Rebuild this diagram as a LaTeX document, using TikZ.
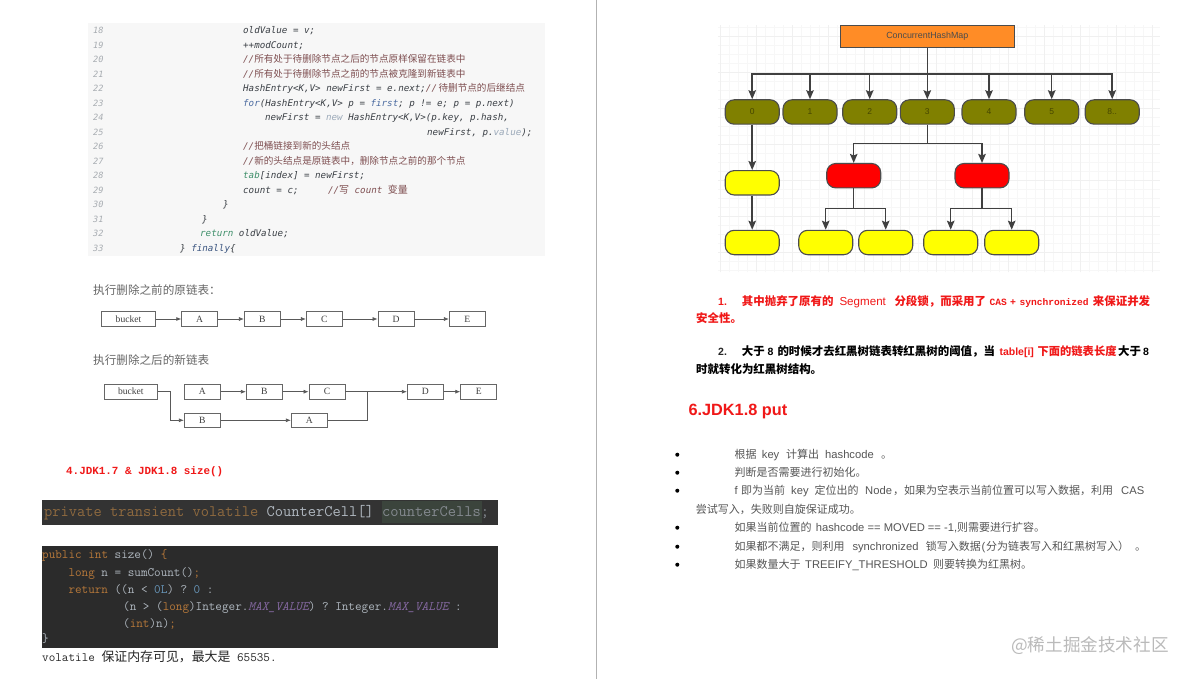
\documentclass[tikz,border=0pt]{standalone}
\usepackage{fontspec}
\setmainfont{Liberation Sans}
\newfontfamily\cjk{Noto Sans CJK SC}
\newfontfamily\codefont{DejaVu Sans Mono}
\newfontfamily\monob{Liberation Mono}
\newfontfamily\serifbox{Liberation Serif}
\usetikzlibrary{arrows.meta}
\newcommand{\zh}[1]{{\cjk #1}}
\newcommand{\fs}[1]{\fontsize{#1}{#1}\selectfont}
\definecolor{codegray}{HTML}{3A3F45}
\definecolor{numgray}{HTML}{A8ADB2}
\definecolor{cmt}{HTML}{7E4E50}
\definecolor{kwgreen}{HTML}{3E8F6A}
\definecolor{kwblue}{HTML}{4A6AA0}
\definecolor{kwpale}{HTML}{9AA8B8}
\definecolor{darkbg}{HTML}{2B2B2B}
\definecolor{barbg}{HTML}{333333}
\definecolor{markbg}{HTML}{3B443C}
\definecolor{kworange}{HTML}{B8793A}
\definecolor{kwdim}{HTML}{8F6A3F}
\definecolor{idegray}{HTML}{B0B8C0}
\definecolor{idenum}{HTML}{6897BB}
\definecolor{idepurple}{HTML}{8468A0}
\definecolor{pagered}{HTML}{F01818}
\definecolor{bodygray}{HTML}{555555}
\definecolor{boxorange}{HTML}{FF8C26}
\definecolor{boxolive}{HTML}{808000}
\definecolor{boxyellow}{HTML}{FFFF00}
\definecolor{boxred}{HTML}{FF0000}
\tikzset{
  codetext/.style={anchor=mid west,yshift=-1.2pt,inner sep=0pt,text=codegray,font=\codefont\itshape\fs{9.2}},
  numtext/.style={anchor=mid west,yshift=-1.2pt,inner sep=0pt,text=numgray,font=\codefont\itshape\fs{8.6}},
  captext/.style={anchor=mid west,yshift=-1.5pt,inner sep=0pt,text=black!60,font=\cjk\fs{11.6}},
  listbox/.style={draw=black!60,line width=0.8pt,fill=white,inner sep=0pt,minimum width=36pt,minimum height=14.7pt,text=black!75,font=\serifbox\fs{9.6}},
  listarrow/.style={draw=black!65,line width=0.7pt,-{Latex[length=5pt,width=4pt]}},
  listline/.style={draw=black!65,line width=0.7pt},
  idetext/.style={anchor=mid west,yshift=-1.2pt,inner sep=0pt,text=idegray,font=\ttfamily\fs{12.8}},
  roundbox/.style={draw=black!70,line width=1.1pt,rounded corners=9pt,inner sep=0pt,minimum width=54pt,minimum height=24.4pt,text=boxolive!55!black,font=\fs{8.5}},
  treearrow/.style={draw=black!75,line width=1.5pt,-{Stealth[length=9pt,width=7.5pt,inset=1.5pt]}},
  treeline/.style={draw=black!75,line width=1.5pt},
  redzh/.style={anchor=mid west,yshift=-1.5pt,inner sep=0pt,text=pagered,font=\cjk\bfseries\fs{11.45}},
  blackzh/.style={anchor=mid west,yshift=-1.5pt,inner sep=0pt,text=black,font=\cjk\bfseries\fs{11.45}},
  redlatin/.style={anchor=mid west,yshift=-1.5pt,inner sep=0pt,text=pagered,font=\fs{11.6}},
  redmono/.style={anchor=mid west,yshift=-1.5pt,inner sep=0pt,text=pagered,font=\monob\bfseries\fs{9.6}},
  bodyzh/.style={anchor=mid west,yshift=-1.2pt,inner sep=0pt,text=bodygray,font=\cjk\fs{11}},
  bodylatin/.style={anchor=mid west,yshift=-1.2pt,inner sep=0pt,text=bodygray,font=\fs{11.2}},
  bulletdot/.style={circle,fill=black,inner sep=0pt,minimum size=4pt}
}
\begin{document}
\begin{tikzpicture}[x=1pt,y=-1pt]
\useasboundingbox (0,0) rectangle (1196,679);
\fill[white] (0,0) rectangle (1196,679);
\draw[black!30,line width=1pt] (596.5,0) -- (596.5,679);
% source listing
\fill[black!3] (88,23) rectangle (545,256);
\node[numtext] (num18) at (93,29.7) {18};
\node[numtext] (num19) at (93,44.2) {19};
\node[numtext] (num20) at (93,58.7) {20};
\node[numtext] (num21) at (93,73.2) {21};
\node[numtext] (num22) at (93,87.7) {22};
\node[numtext] (num23) at (93,102.2) {23};
\node[numtext] (num24) at (93,116.7) {24};
\node[numtext] (num25) at (93,131.2) {25};
\node[numtext] (num26) at (93,145.7) {26};
\node[numtext] (num27) at (93,160.2) {27};
\node[numtext] (num28) at (93,174.7) {28};
\node[numtext] (num29) at (93,189.2) {29};
\node[numtext] (num30) at (93,203.7) {30};
\node[numtext] (num31) at (93,218.2) {31};
\node[numtext] (num32) at (93,232.7) {32};
\node[numtext] (num33) at (93,247.2) {33};
\node[codetext] (line18) at (243,29.7) {oldValue = v;};
\node[codetext] (line19) at (243,44.2) {++modCount;};
\node[codetext,text=cmt] (line20) at (243,58.7) {//\zh{\fs{9.6}所有处于待删除节点之后的节点原样保留在链表中}};
\node[codetext,text=cmt] (line21) at (243,73.2) {//\zh{\fs{9.6}所有处于待删除节点之前的节点被克隆到新链表中}};
\node[codetext] (line22) at (243,87.7) {HashEntry<K,V> newFirst = e.next;\textcolor{cmt}{//\hspace{1.5pt}\zh{\fs{9.6}待删节点的后继结点}}};
\node[codetext] (line23) at (243,102.2) {\textcolor{kwblue}{for}(HashEntry<K,V> p = \textcolor{kwblue}{first}; p != e; p = p.next)};
\node[codetext] (line24) at (265,116.7) {newFirst = \textcolor{kwpale}{new} HashEntry<K,V>(p.key, p.hash,};
\node[codetext] (line25) at (427,131.2) {newFirst, p.\textcolor{kwpale}{value});};
\node[codetext,text=cmt] (line26) at (243,145.7) {//\zh{\fs{9.6}把桶链接到新的头结点}};
\node[codetext,text=cmt] (line27) at (243,160.2) {//\zh{\fs{9.6}新的头结点是原链表中，删除节点之前的那个节点}};
\node[codetext] (line28) at (243,174.7) {\textcolor{kwgreen}{tab}[index] = newFirst;};
\node[codetext] (line29) at (243,189.2) {count = c;\hspace{29.5pt}\textcolor{cmt}{//\zh{\fs{10}写} count \zh{\fs{10}变量}}};
\node[codetext] (line30) at (223,203.7) {\}};
\node[codetext] (line31) at (202,218.2) {\}};
\node[codetext] (line32) at (200,232.7) {\textcolor{kwgreen}{return} oldValue;};
\node[codetext] (line33) at (180,247.2) {\} \textcolor{kwblue!80!black}{finally}\{};
% linked list before
\node[captext] (capbefore) at (93,290) {执行删除之前的原链表：};
\node[listbox,minimum width=54.4pt] (bucketa) at (128.5,319) {bucket};
\node[listbox] (a1) at (199.7,319) {A};
\node[listbox] (b1) at (262.3,319) {B};
\node[listbox] (c1) at (324.3,319) {C};
\node[listbox] (d1) at (396,319) {D};
\node[listbox] (e1) at (467.3,319) {E};
\draw[listarrow] (bucketa) -- (a1);
\draw[listarrow] (a1) -- (b1);
\draw[listarrow] (b1) -- (c1);
\draw[listarrow] (c1) -- (d1);
\draw[listarrow] (d1) -- (e1);
% linked list after
\node[captext] (capafter) at (93,360) {执行删除之后的新链表};
\node[listbox,minimum width=53.7pt] (bucketb) at (130.8,391.7) {bucket};
\node[listbox] (a2) at (202.3,391.7) {A};
\node[listbox] (b2) at (264.3,391.7) {B};
\node[listbox] (c2) at (327,391.7) {C};
\node[listbox] (d2) at (425.3,391.7) {D};
\node[listbox] (e2) at (478.7,391.7) {E};
\node[listbox] (b3) at (202.3,420.3) {B};
\node[listbox] (a3) at (309.3,420.3) {A};
\coordinate (drop) at (170.7,391.7);
\coordinate (merge) at (367.3,391.7);
\draw[listarrow] (a2) -- (b2);
\draw[listarrow] (b2) -- (c2);
\draw[listarrow] (c2) -- (d2);
\draw[listarrow] (d2) -- (e2);
\draw[listarrow] (bucketb) -- (drop) |- (b3);
\draw[listarrow] (b3) -- (a3);
\draw[listline] (a3) -| (merge);
% size section
\node[anchor=mid west,yshift=-1.2pt,inner sep=0pt,text=pagered,font=\monob\bfseries\fs{10.9}] (sizetitle) at (66,471) {4.JDK1.7 \& JDK1.8 size()};
\fill[barbg] (42,500) rectangle (498,525);
\fill[markbg] (382,501) rectangle (482,523);
\node[idetext,font=\ttfamily\fs{16}] (cellfield) at (44,512.5) {\textcolor{kwdim}{private transient volatile} \textcolor{idegray}{CounterCell[]} \textcolor{idegray!65!barbg}{counterCells;}};
\fill[darkbg] (42,546) rectangle (498,648);
\node[idetext] (ide1) at (42,555) {\textcolor{kworange}{public int} size() \textcolor{kworange}{\{}};
\node[idetext] (ide2) at (68.3,572.7) {\textcolor{kworange}{long} n = sumCount()\textcolor{kworange}{;}};
\node[idetext] (ide3) at (68.3,590) {\textcolor{kworange}{return} ((n < \textcolor{idenum}{0L}) ? \textcolor{idenum}{0} :};
\node[idetext] (ide4) at (123,607) {(n > (\textcolor{kworange}{long})Integer.\textcolor{idepurple}{\itshape MAX\_VALUE}) ? Integer.\textcolor{idepurple}{\itshape MAX\_VALUE} :};
\node[idetext] (ide5) at (123,624) {(\textcolor{kworange}{int})n)\textcolor{kworange}{;}};
\node[idetext] (ide6) at (42,639) {\}};
\node[idetext,text=black!85] (sizenote) at (42,657.7) {volatile \zh{\fs{12.9}保证内存可见，最大是} 65535.};
% tree picture
\draw[black!3,line width=0.4pt,step=9pt] (718,25) grid (1160,272);
\draw[black!6,line width=0.6pt,step=36pt] (718,25) grid (1160,272);
\node[draw=black!70,fill=boxorange,line width=0.9pt,inner sep=0pt,minimum width=174.7pt,minimum height=22.7pt,text=black!70,font=\fs{8.9}] (map) at (927.3,36.4) {ConcurrentHashMap};
\node[roundbox,fill=boxolive] (s0) at (752.2,112) {0};
\node[roundbox,fill=boxolive] (s1) at (810,112) {1};
\node[roundbox,fill=boxolive] (s2) at (869.7,112) {2};
\node[roundbox,fill=boxolive] (s3) at (927.3,112) {3};
\node[roundbox,fill=boxolive] (s4) at (989,112) {4};
\node[roundbox,fill=boxolive] (s5) at (1051.7,112) {5};
\node[roundbox,fill=boxolive] (s6) at (1112.2,112) {8..};
\node[roundbox,fill=boxyellow] (y1) at (752.2,182.8) {};
\node[roundbox,fill=boxyellow] (y2) at (752.2,242.5) {};
\node[roundbox,fill=boxred] (r1) at (853.7,175.7) {};
\node[roundbox,fill=boxred] (r2) at (982,175.7) {};
\node[roundbox,fill=boxyellow] (y3) at (825.7,242.5) {};
\node[roundbox,fill=boxyellow] (y4) at (885.7,242.5) {};
\node[roundbox,fill=boxyellow] (y5) at (950.7,242.5) {};
\node[roundbox,fill=boxyellow] (y6) at (1011.7,242.5) {};
\coordinate (hub) at (927.3,74);
\coordinate (hubthree) at (927.3,143.7);
\coordinate (hubred1) at (853.7,208.7);
\coordinate (hubred2) at (982,208.7);
\draw[treeline] (map) -- (hub);
\draw[treearrow] (hub) -| (s0);
\draw[treearrow] (hub) -| (s1);
\draw[treearrow] (hub) -| (s2);
\draw[treearrow] (hub) -- (s3);
\draw[treearrow] (hub) -| (s4);
\draw[treearrow] (hub) -| (s5);
\draw[treearrow] (hub) -| (s6);
\draw[treearrow] (s0) -- (y1);
\draw[treearrow] (y1) -- (y2);
\draw[treeline] (s3) -- (hubthree);
\draw[treearrow] (hubthree) -| (r1);
\draw[treearrow] (hubthree) -| (r2);
\draw[treeline] (r1) -- (hubred1);
\draw[treeline] (r2) -- (hubred2);
\draw[treearrow] (hubred1) -| (y3);
\draw[treearrow] (hubred1) -| (y4);
\draw[treearrow] (hubred2) -| (y5);
\draw[treearrow] (hubred2) -| (y6);
% numbered notes
\node[redlatin,font=\bfseries\fs{10.5}] (note1) at (718,301) {1.};
\node[redzh] (note1a) at (741.7,301) {其中抛弃了原有的};
\node[redlatin] (note1b) at (839.3,301) {Segment};
\node[redzh] (note1c) at (894.3,301) {分段锁，而采用了};
\node[redmono] (note1d) at (989.3,301) {CAS};
\node[redlatin,font=\bfseries\fs{10}] (note1e) at (1010,301) {+};
\node[redmono] (note1f) at (1019.3,301) {synchronized};
\node[redzh] (note1g) at (1092.7,301) {来保证并发};
\node[redzh] (note1h) at (696,318.3) {安全性。};
\node[blackzh,text=black!85,font=\bfseries\fs{10.5}] (note2) at (718,351) {2.};
\node[blackzh] (note2a) at (741.7,351) {大于};
\node[blackzh,font=\bfseries\fs{10.5}] (note2b) at (767.3,351) {8};
\node[blackzh] (note2c) at (777.3,351) {的时候才去红黑树链表转红黑树的阈值，当};
\node[redlatin,font=\bfseries\fs{10.5}] (note2d) at (999.3,351) {table[i]};
\node[redzh,font=\cjk\bfseries\fs{11.3}] (note2e) at (1037.3,351) {下面的链表长度};
\node[blackzh] (note2f) at (1118,351) {大于};
\node[blackzh,font=\bfseries\fs{10.5}] (note2g) at (1143,351) {8};
\node[blackzh] (note2h) at (696,369.3) {时就转化为红黑树结构。};
\node[anchor=mid west,yshift=-1.5pt,inner sep=0pt,text=pagered,font=\bfseries\fs{16.3}] (puttitle) at (688.3,411) {6.JDK1.8 put};
% bullet list
\node[bulletdot] (dot1) at (677.3,454.7) {};
\node[bulletdot] (dot2) at (677.3,472.7) {};
\node[bulletdot] (dot3) at (677.3,490.7) {};
\node[bulletdot] (dot4) at (677.3,527.7) {};
\node[bulletdot] (dot5) at (677.3,546.7) {};
\node[bulletdot] (dot6) at (677.3,564.7) {};
\node[bodyzh] (put1a) at (734.3,454.7) {根据};
\node[bodylatin] (put1b) at (761.7,454.7) {key};
\node[bodyzh] (put1c) at (786,454.7) {计算出};
\node[bodylatin] (put1d) at (825,454.7) {hashcode};
\node[bodyzh] (put1e) at (881,454.7) {。};
\node[bodyzh] (put2) at (734.3,472.7) {判断是否需要进行初始化。};
\node[bodylatin] (put3a) at (734.3,490.7) {f};
\node[bodyzh] (put3b) at (741,490.7) {即为当前};
\node[bodylatin] (put3c) at (791,490.7) {key};
\node[bodyzh] (put3d) at (814.3,490.7) {定位出的};
\node[bodylatin] (put3e) at (865,490.7) {Node};
\node[bodyzh] (put3f) at (893,490.7) {，如果为空表示当前位置可以写入数据，利用};
\node[bodylatin] (put3g) at (1121,490.7) {CAS};
\node[bodyzh] (put3h) at (695.7,510) {尝试写入，失败则自旋保证成功。};
\node[bodyzh] (put4a) at (734.3,527.7) {如果当前位置的};
\node[bodylatin] (put4b) at (815.7,527.7) {hashcode == MOVED == -1,};
\node[bodyzh] (put4c) at (957,527.7) {则需要进行扩容。};
\node[bodyzh] (put5a) at (734.3,546.7) {如果都不满足，则利用};
\node[bodylatin] (put5b) at (852.3,546.7) {synchronized};
\node[bodyzh] (put5c) at (925.7,546.7) {锁写入数据};
\node[bodylatin] (put5d) at (981.5,546.7) {(};
\node[bodyzh] (put5e) at (986,546.7) {分为链表写入和红黑树写入）};
\node[bodyzh] (put5f) at (1135,546.7) {。};
\node[bodyzh] (put6a) at (734.3,564.7) {如果数量大于};
\node[bodylatin] (put6b) at (805,564.7) {TREEIFY\_THRESHOLD};
\node[bodyzh] (put6c) at (933,564.7) {则要转换为红黑树。};
% site mark
\node[anchor=mid west,yshift=-1pt,inner sep=0pt,text=black!27,font=\cjk\fs{17.6}] (sitemark) at (1011,648) {@稀土掘金技术社区};
\end{tikzpicture}
\end{document}
